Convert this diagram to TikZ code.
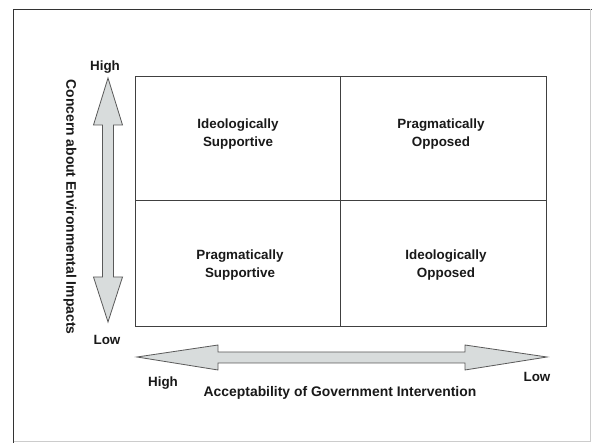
\documentclass[tikz,border=0pt]{standalone}
\usepackage{fontspec}
\setmainfont{Liberation Sans}
\begin{document}
\begin{tikzpicture}[x=1pt,y=-1pt,
  lbl/.style={font=\fontsize{13.4}{18}\selectfont\bfseries, text=black!90, inner sep=0pt},
  axislbl/.style={lbl, font=\fontsize{13.9}{18}\selectfont\bfseries},
  cell/.style={lbl, align=center},
  grid/.style={draw=black!75, line width=0.9pt},
  axisarrow/.style={draw=black!65, line width=0.8pt, fill={rgb,255:red,216;green,220;blue,220}, line join=miter}]
\useasboundingbox (0,0) rectangle (592,443);
\fill[white] (0,0) rectangle (592,443);

% frame
\draw[black!80, line width=1.4pt] (13.5,443) -- (13.5,9.5) -- (592,9.5);
\draw[black!20, line width=0.8pt] (13.5,441.5) -- (590,441.5) -- (590,9.5);

% quadrant grid
\coordinate (tl) at (135,76);
\coordinate (br) at (546,326);
\draw[grid] (tl) rectangle (br);
\draw[grid] (340,76) -- (340,326);
\draw[grid] (135,200) -- (546,200);

\node[cell] (q1) at (238,134) {Ideologically\\Supportive};
\node[cell] (q2) at (441,134) {Pragmatically\\Opposed};
\node[cell] (q3) at (240,265) {Pragmatically\\Supportive};
\node[cell] (q4) at (446,265) {Ideologically\\Opposed};

% vertical axis arrow
\draw[axisarrow] (108,78) -- (122.5,125) -- (113.5,125) -- (113.5,277) -- (122.5,277)
  -- (108,322) -- (93.5,277) -- (102.5,277) -- (102.5,125) -- (93.5,125) -- cycle;
\node[lbl] (vhigh) at (105,67) {High};
\node[lbl] (vlow) at (107,340) {Low};
\node[axislbl, rotate=-90] (vtitle) at (70,207) {Concern about Environmental Impacts};

% horizontal axis arrow
\draw[axisarrow] (137,357) -- (218,345) -- (218,352) -- (465,352) -- (465,345)
  -- (547,357) -- (465,370) -- (465,363) -- (218,363) -- (218,370) -- cycle;
\node[lbl] (hhigh) at (163,383) {High};
\node[lbl] (hlow) at (537,377) {Low};
\node[axislbl] (htitle) at (340,393) {Acceptability of Government Intervention};
\end{tikzpicture}
\end{document}
